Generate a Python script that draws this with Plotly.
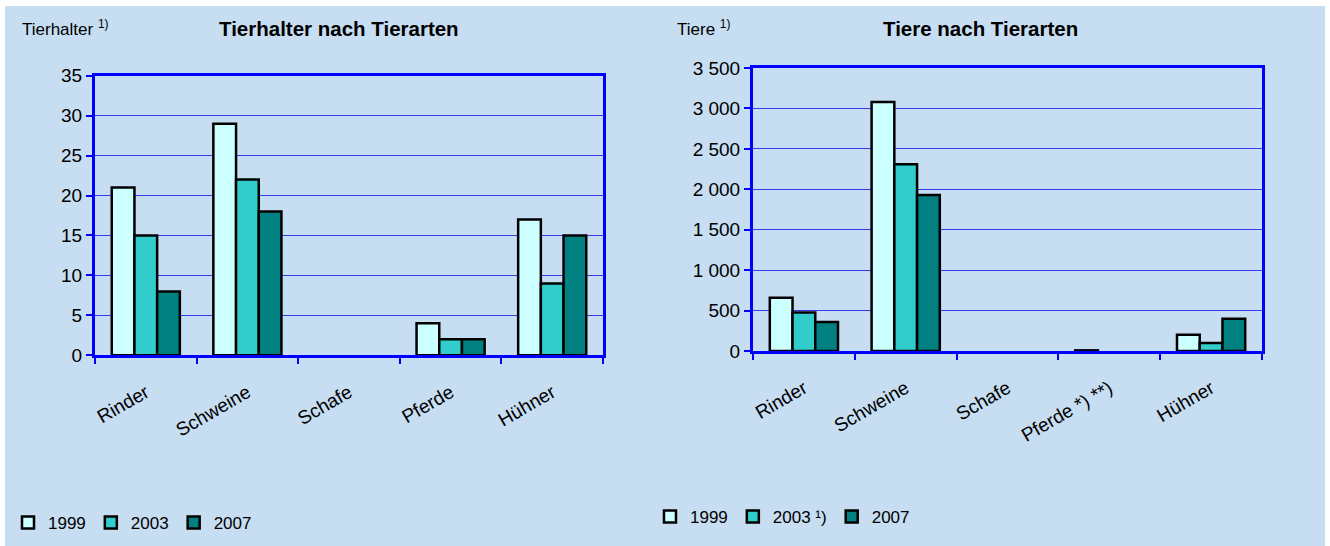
import plotly.graph_objects as go

# ---- data ----
categories_left = ["Rinder", "Schweine", "Schafe", "Pferde", "Hühner"]
categories_right = ["Rinder", "Schweine", "Schafe", "Pferde *) **)", "Hühner"]

halter_1999 = [21, 29, 0, 4, 17]
halter_2003 = [15, 22, 0, 2, 9]
halter_2007 = [8, 18, 0, 2, 15]

tiere_1999 = [660, 3080, 0, 8, 200]
tiere_2003 = [475, 2310, 0, 0, 100]
tiere_2007 = [360, 1930, 0, 0, 400]

years_left = ["1999", "2003", "2007"]
years_right = ["1999", "2003 ¹)", "2007"]
colors = ["#CCFFFF", "#33CCCC", "#008080"]

FONT = "Liberation Sans, Arial, sans-serif"
BG = "#C6DDF2"
BLUE = "#0000FF"

fig = go.Figure()

def outline(vals):
    return [0 if v == 0 else 2.5 for v in vals]

for name, vals, col in zip(years_left, [halter_1999, halter_2003, halter_2007], colors):
    fig.add_trace(go.Bar(
        x=categories_left, y=vals, name=name,
        marker=dict(color=col, line=dict(color="black", width=outline(vals))),
        xaxis="x", yaxis="y", legend="legend"))

for name, vals, col in zip(years_right, [tiere_1999, tiere_2003, tiere_2007], colors):
    fig.add_trace(go.Bar(
        x=categories_right, y=vals, name=name,
        marker=dict(color=col, line=dict(color="black", width=outline(vals))),
        xaxis="x2", yaxis="y2", legend="legend2"))

W, H = 1330, 546

def dom_x(a, b):
    return [a / W, b / W]

def dom_y(top, bottom):
    return [1 - bottom / H, 1 - top / H]

line_common = dict(
    showline=True, linecolor=BLUE, linewidth=3, mirror=True,
    ticks="outside", tickcolor=BLUE, ticklen=6, tickwidth=1.5,
)
ytick_font = dict(family=FONT, size=19, color="black")
xtick_font = dict(family=FONT, size=19, color="black")

fig.update_layout(
    width=W, height=H,
    margin=dict(l=0, r=0, t=0, b=0, autoexpand=False),
    paper_bgcolor="white",
    plot_bgcolor="white",
    barmode="group",
    bargap=0.33,
    bargroupgap=0,
    separators=", ",
    font=dict(family=FONT, color="black"),
    xaxis=dict(domain=dom_x(95, 603), anchor="y", tickson="boundaries", tickangle=-30,
               ticklabelstandoff=16, tickfont=xtick_font, automargin=False, **line_common),
    yaxis=dict(domain=dom_y(75.7, 355.3), anchor="x", range=[0, 35], dtick=5,
               showgrid=True, gridcolor="#3A3AF0", gridwidth=1, zeroline=False, automargin=False,
               tickfont=ytick_font, **line_common),
    xaxis2=dict(domain=dom_x(753, 1262), anchor="y2", tickson="boundaries", tickangle=-30,
                ticklabelstandoff=16, tickfont=xtick_font, automargin=False, **line_common),
    yaxis2=dict(domain=dom_y(68, 351), anchor="x2", range=[0, 3500], dtick=500,
                separatethousands=True, automargin=False,
                showgrid=True, gridcolor="#3A3AF0", gridwidth=1, zeroline=False,
                tickfont=ytick_font, **line_common),
    legend=dict(orientation="h", x=8 / W, y=1 - 523 / H, xanchor="left", yanchor="middle",
                bgcolor="rgba(0,0,0,0)", font=dict(family=FONT, size=17),
                itemwidth=30, traceorder="normal"),
    legend2=dict(orientation="h", x=650 / W, y=1 - 517 / H, xanchor="left", yanchor="middle",
                 bgcolor="rgba(0,0,0,0)", font=dict(family=FONT, size=17),
                 itemwidth=30, traceorder="normal"),
    shapes=[dict(type="rect", xref="paper", yref="paper", x0=5 / W, x1=1325 / W, y0=0, y1=1 - 6 / H,
                 fillcolor=BG, line=dict(width=0), layer="below")],
    annotations=[
        dict(text="<b>Tierhalter nach Tierarten</b>", x=339 / W, y=1 - 28 / H, xref="paper", yref="paper",
             showarrow=False, font=dict(family=FONT, size=20.5), xanchor="center", yanchor="middle"),
        dict(text="Tierhalter <sup>1)</sup>", x=20 / W, y=1 - 28 / H, xref="paper", yref="paper",
             showarrow=False, font=dict(family=FONT, size=17), xanchor="left", yanchor="middle"),
        dict(text="<b>Tiere nach Tierarten</b>", x=980 / W, y=1 - 28 / H, xref="paper", yref="paper",
             showarrow=False, font=dict(family=FONT, size=20.5), xanchor="center", yanchor="middle"),
        dict(text="Tiere <sup>1)</sup>", x=675 / W, y=1 - 28 / H, xref="paper", yref="paper",
             showarrow=False, font=dict(family=FONT, size=17), xanchor="left", yanchor="middle"),
    ],
)

post = (
    "document.documentElement.style.margin='0';"
    "document.body.style.margin='0';"
    "document.documentElement.style.overflow='hidden';"
    "document.body.style.overflow='hidden';"
    "var d=document.getElementById('{plot_id}');"
    "d.style.position='fixed';d.style.left='0px';d.style.top='0px';"
)

fig.write_html("out.html", config={"displayModeBar": False}, post_script=post)
